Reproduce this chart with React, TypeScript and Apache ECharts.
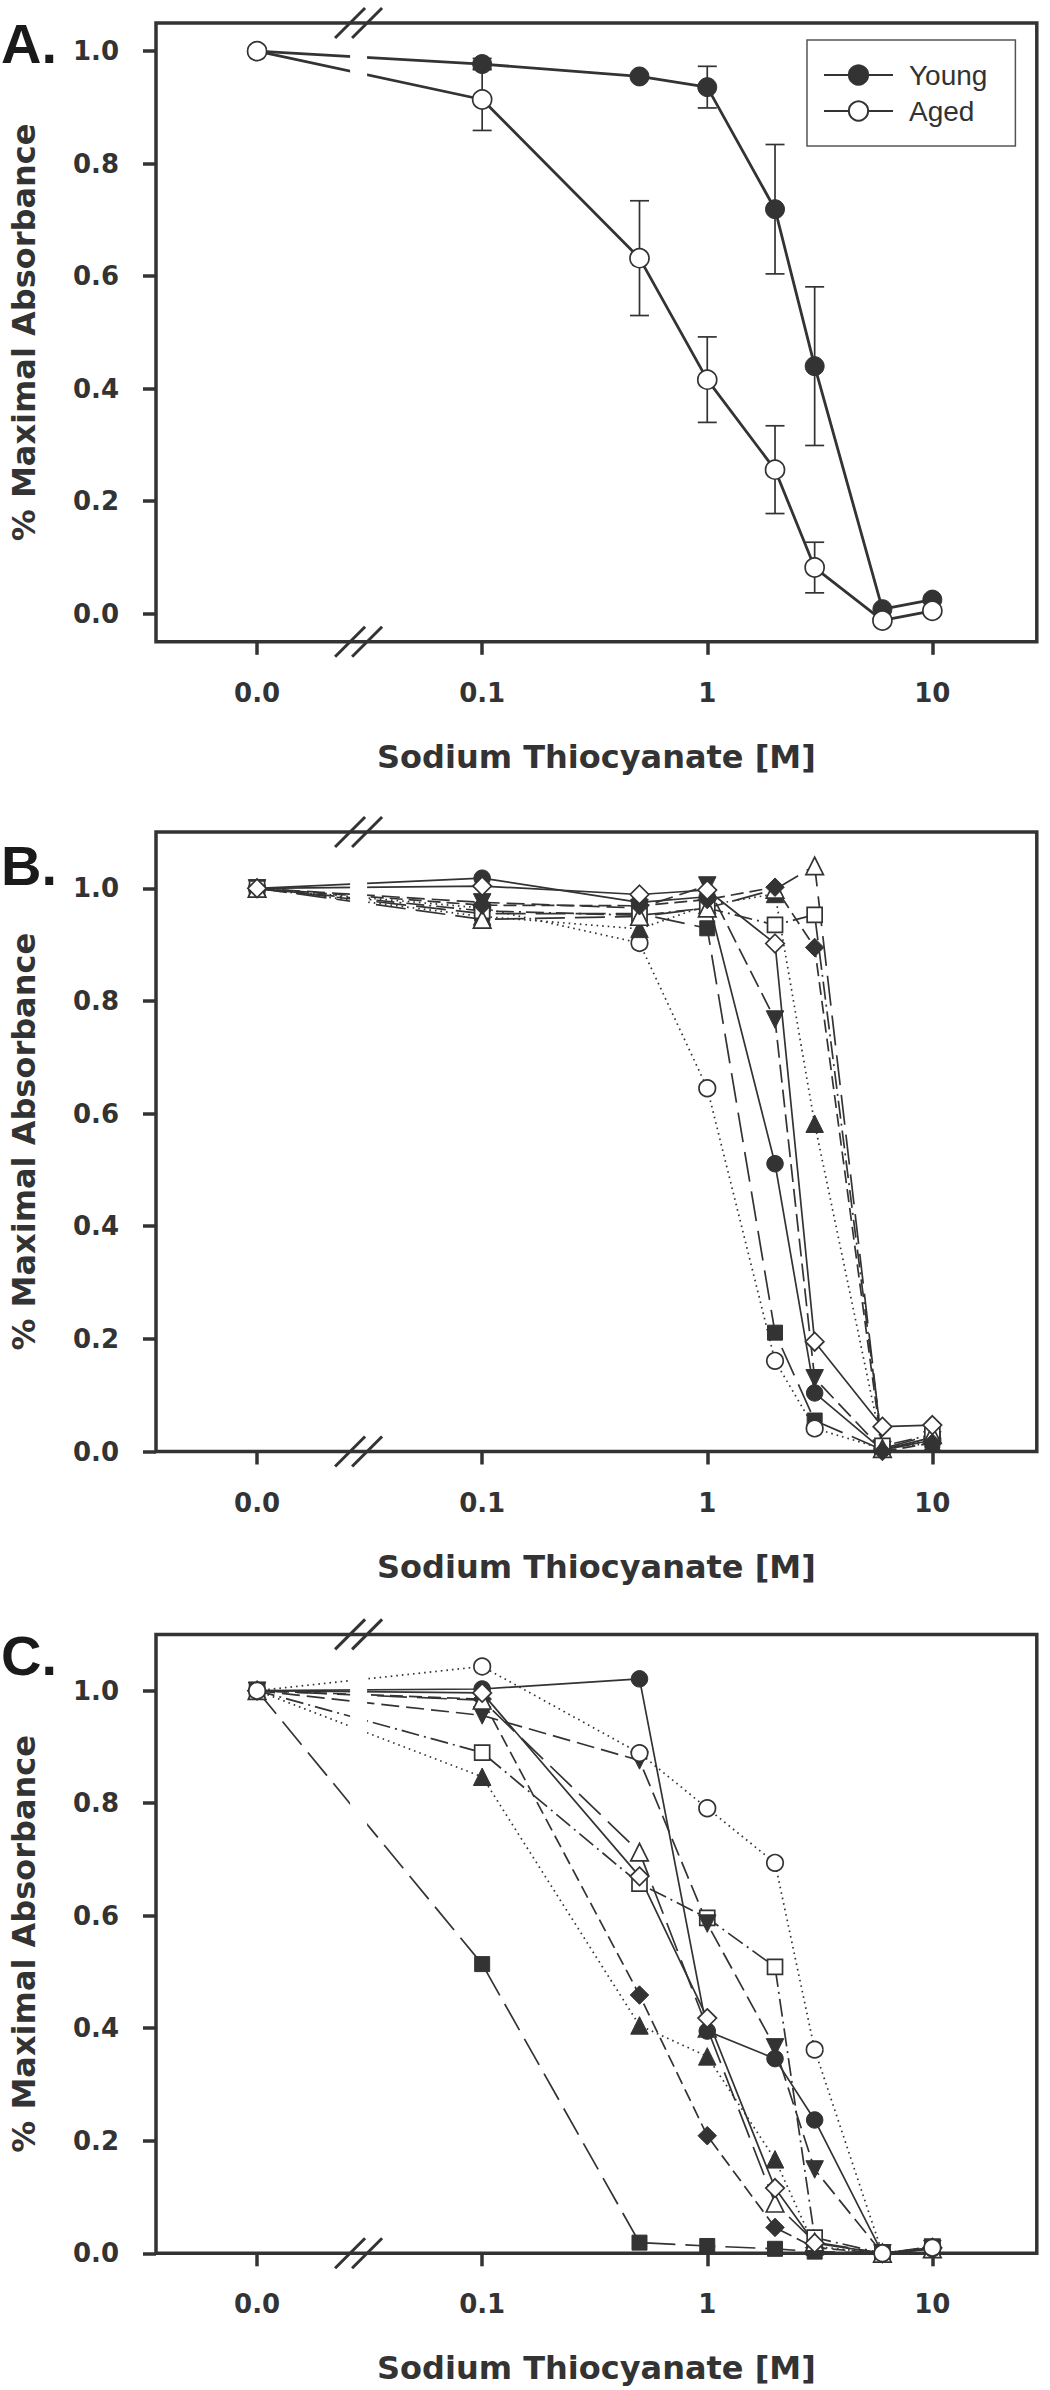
import React, { useEffect, useRef } from 'react';
import * as echarts from 'echarts';

// ---------- shared axis data ----------
const CONCENTRATIONS = [0, 0.1, 0.5, 1, 2, 3, 6, 10];
const X_TICK_CONC = [0, 0.1, 1, 10];
const X_TICK_LABELS = ['0.0', '0.1', '1', '10'];
const Y_TICKS = [0, 0.2, 0.4, 0.6, 0.8, 1.0];
const ZERO_STANDIN = 0.01; // the "0.0" column sits one decade left of 0.1
const BREAK_CONC = 0.02825; // axis break between 0.0 and 0.1
const X_LOG_MIN = -2.449;
const X_LOG_MAX = 1.464;

// ---------- panel A ----------
const A_YOUNG = [1.0, 0.977, 0.955, 0.936, 0.719, 0.44, 0.008, 0.025];
const A_YOUNG_ERR = [0, 0.01, 0, 0.037, 0.115, 0.141, 0, 0];
const A_AGED = [1.0, 0.914, 0.632, 0.416, 0.256, 0.082, -0.012, 0.005];
const A_AGED_ERR = [0, 0.055, 0.102, 0.076, 0.078, 0.045, 0, 0];

// ---------- panel B ----------
const B_FILLED_CIRCLE = [1, 1.018, 0.975, 0.985, 0.511, 0.104, 0.003, 0.025];
const B_OPEN_CIRCLE = [1, 0.965, 0.903, 0.645, 0.161, 0.041, 0.005, 0.02];
const B_FILLED_TRI_DOWN = [1, 0.975, 0.965, 1.005, 0.767, 0.13, 0.003, 0.02];
const B_OPEN_TRI_UP = [1, 0.945, 0.95, 0.965, 0.998, 1.04, 0.005, 0.03];
const B_FILLED_SQUARE = [1, 0.955, 0.955, 0.929, 0.211, 0.055, 0.003, 0.02];
const B_OPEN_SQUARE = [1, 0.96, 0.952, 0.965, 0.935, 0.953, 0.01, 0.03];
const B_FILLED_DIAMOND = [1, 0.97, 0.969, 0.98, 1.002, 0.895, 0.0, 0.015];
const B_OPEN_DIAMOND = [1, 1.004, 0.989, 0.997, 0.902, 0.195, 0.044, 0.047];
const B_FILLED_TRI_UP = [1, 0.95, 0.928, 0.97, 0.99, 0.582, 0.005, 0.015];

// ---------- panel C ----------
const C_FILLED_CIRCLE = [1, 1.003, 1.021, 0.395, 0.346, 0.237, 0.0, 0.008];
const C_OPEN_CIRCLE = [1, 1.043, 0.889, 0.791, 0.694, 0.362, 0.0, 0.01];
const C_FILLED_TRI_DOWN = [1, 0.956, 0.876, 0.586, 0.366, 0.149, 0.0, 0.008];
const C_OPEN_TRI_UP = [1, 0.983, 0.713, 0.4, 0.089, 0.02, 0.0, 0.008];
const C_FILLED_SQUARE = [1, 0.514, 0.019, 0.013, 0.008, 0.003, 0.0, 0.01];
const C_OPEN_SQUARE = [1, 0.89, 0.657, 0.596, 0.509, 0.028, 0.0, 0.012];
const C_FILLED_DIAMOND = [1, 0.985, 0.459, 0.209, 0.046, 0.01, 0.0, 0.008];
const C_OPEN_DIAMOND = [1, 0.996, 0.67, 0.418, 0.116, 0.018, 0.0, 0.01];
const C_FILLED_TRI_UP = [1, 0.847, 0.405, 0.35, 0.167, 0.012, 0.0, 0.008];

// ---------- styles ----------
const DARK = '#333333';
const DOTTED = [1.6, 4];
const DASH = [18, 7];
const MED_DASH = [13, 6];
const LONG_DASH = [30, 10];
const DASH_DOT = [18, 5, 2, 5];

type Style = { symbol: string; size: number; rotate?: number; filled: boolean; dash: any };
const STYLE: Record<string, Style> = {
  filledCircle: { symbol: 'circle', size: 16.5, filled: true, dash: 'solid' },
  openCircle: { symbol: 'circle', size: 16.5, filled: false, dash: DOTTED },
  filledTriDown: { symbol: 'triangle', size: 17.5, rotate: 180, filled: true, dash: DASH },
  openTriUp: { symbol: 'triangle', size: 17.5, filled: false, dash: LONG_DASH },
  filledSquare: { symbol: 'rect', size: 15, filled: true, dash: LONG_DASH },
  openSquare: { symbol: 'rect', size: 15, filled: false, dash: DASH_DOT },
  filledDiamond: { symbol: 'diamond', size: 18.5, filled: true, dash: MED_DASH },
  openDiamond: { symbol: 'diamond', size: 18.5, filled: false, dash: 'solid' },
  filledTriUp: { symbol: 'triangle', size: 17.5, filled: true, dash: DOTTED },
};

const xPos = (c: number) => Math.log10(c === 0 ? ZERO_STANDIN : c);

const GRIDS = [
  { left: 155.4, top: 23, width: 881.4, height: 618.8, yMin: -0.05, yMax: 1.05, letter: 'A.', letterY: 43 },
  { left: 155.4, top: 832, width: 881.4, height: 619.5, yMin: 0, yMax: 1.1, letter: 'B.', letterY: 865 },
  { left: 155.4, top: 1634.4, width: 881.4, height: 618.9, yMin: 0, yMax: 1.1, letter: 'C.', letterY: 1655 },
];

const TICK_FONT = { fontFamily: '"DejaVu Sans", sans-serif', fontWeight: 'bold' as const, fontSize: 26, color: DARK };
const TITLE_FONT = { fontFamily: '"DejaVu Sans", sans-serif', fontWeight: 'bold' as const, fontSize: 32, color: DARK };

function lineSeries(name: string, gi: number, values: number[], st: Style, lineWidth = 1.7) {
  return {
    type: 'line',
    name,
    xAxisIndex: gi,
    yAxisIndex: gi,
    data: CONCENTRATIONS.map((c, i) => [xPos(c), values[i]]),
    symbol: st.symbol,
    symbolSize: st.size,
    symbolRotate: st.rotate || 0,
    showSymbol: true,
    showAllSymbol: true,
    lineStyle: { color: DARK, width: lineWidth, type: st.dash },
    itemStyle: st.filled
      ? { color: DARK, borderColor: DARK, borderWidth: 1 }
      : { color: '#ffffff', borderColor: DARK, borderWidth: 1.7 },
    emphasis: { disabled: true },
    silent: true,
    z: 3,
  };
}

function errorSeries(gi: number, values: number[], errs: number[]) {
  const data: number[][] = [];
  CONCENTRATIONS.forEach((c, i) => {
    if (errs[i] > 0) data.push([xPos(c), values[i] - errs[i], values[i] + errs[i]]);
  });
  return {
    type: 'custom',
    xAxisIndex: gi,
    yAxisIndex: gi,
    silent: true,
    z: 2,
    encode: { x: 0, y: [1, 2] },
    data,
    renderItem: (_p: any, api: any) => {
      const x = api.value(0);
      const lo = api.coord([x, api.value(1)]);
      const hi = api.coord([x, api.value(2)]);
      const w = 9.5;
      const style = { stroke: DARK, lineWidth: 1.7 };
      return {
        type: 'group',
        children: [
          { type: 'line', shape: { x1: lo[0], y1: lo[1], x2: hi[0], y2: hi[1] }, style },
          { type: 'line', shape: { x1: lo[0] - w, y1: lo[1], x2: lo[0] + w, y2: lo[1] }, style },
          { type: 'line', shape: { x1: hi[0] - w, y1: hi[1], x2: hi[0] + w, y2: hi[1] }, style },
        ],
      };
    },
  };
}

function panelSeries(gi: number, prefix: string, arrs: [string, number[]][]) {
  return arrs.map(([key, vals]) => lineSeries(prefix + ' ' + key, gi, vals, STYLE[key]));
}

export default function App() {
  const ref = useRef<HTMLDivElement>(null);
  useEffect(() => {
    if (!ref.current) return;
    const chart = echarts.init(ref.current, null, { renderer: 'svg' });

    const xLabelFmt = (v: number) => {
      const i = X_TICK_CONC.findIndex((c) => Math.abs(xPos(c) - v) < 1e-6);
      return i >= 0 ? X_TICK_LABELS[i] : '';
    };

    const grid = GRIDS.map((g) => ({
      left: g.left,
      top: g.top,
      width: g.width,
      height: g.height,
      show: true,
      borderColor: DARK,
      borderWidth: 3.5,
      backgroundColor: 'transparent',
    }));

    const xAxis = GRIDS.map((_g, i) => ({
      type: 'value',
      gridIndex: i,
      position: 'bottom',
      min: X_LOG_MIN,
      max: X_LOG_MAX,
      name: 'Sodium Thiocyanate [M]',
      nameLocation: 'middle',
      nameGap: 99,
      nameTextStyle: TITLE_FONT,
      axisLine: { show: false, onZero: false },
      splitLine: { show: false },
      axisTick: {
        show: true,
        inside: false,
        length: 13,
        lineStyle: { color: DARK, width: 3.5 },
        customValues: X_TICK_CONC.map(xPos),
      },
      axisLabel: {
        ...TICK_FONT,
        margin: 38,
        customValues: X_TICK_CONC.map(xPos),
        formatter: xLabelFmt,
      },
    }));

    const yAxis = GRIDS.map((g, i) => ({
      type: 'value',
      gridIndex: i,
      position: 'left',
      min: g.yMin,
      max: g.yMax,
      name: '% Maximal Absorbance',
      nameLocation: 'middle',
      nameGap: 116,
      nameTextStyle: TITLE_FONT,
      axisLine: { show: false, onZero: false },
      splitLine: { show: false },
      axisTick: {
        show: true,
        inside: false,
        length: 13,
        lineStyle: { color: DARK, width: 3.5 },
        customValues: Y_TICKS,
      },
      axisLabel: {
        ...TICK_FONT,
        margin: 37,
        customValues: Y_TICKS,
        formatter: (v: number) => v.toFixed(1),
      },
    }));

    const series: any[] = [
      errorSeries(0, A_YOUNG, A_YOUNG_ERR),
      errorSeries(0, A_AGED, A_AGED_ERR),
      lineSeries('Young', 0, A_YOUNG, { symbol: 'circle', size: 19, filled: true, dash: 'solid' }, 2.8),
      lineSeries('Aged', 0, A_AGED, { symbol: 'circle', size: 19, filled: false, dash: 'solid' }, 2.8),
      ...panelSeries(1, 'B', [
        ['filledSquare', B_FILLED_SQUARE],
        ['openCircle', B_OPEN_CIRCLE],
        ['filledCircle', B_FILLED_CIRCLE],
        ['filledTriDown', B_FILLED_TRI_DOWN],
        ['filledTriUp', B_FILLED_TRI_UP],
        ['openSquare', B_OPEN_SQUARE],
        ['openTriUp', B_OPEN_TRI_UP],
        ['filledDiamond', B_FILLED_DIAMOND],
        ['openDiamond', B_OPEN_DIAMOND],
      ]),
      ...panelSeries(2, 'C', [
        ['filledSquare', C_FILLED_SQUARE],
        ['filledTriUp', C_FILLED_TRI_UP],
        ['filledDiamond', C_FILLED_DIAMOND],
        ['openSquare', C_OPEN_SQUARE],
        ['filledTriDown', C_FILLED_TRI_DOWN],
        ['openTriUp', C_OPEN_TRI_UP],
        ['filledCircle', C_FILLED_CIRCLE],
        ['openDiamond', C_OPEN_DIAMOND],
        ['openCircle', C_OPEN_CIRCLE],
      ]),
    ];

    chart.setOption({
      animation: false,
      backgroundColor: '#ffffff',
      grid,
      xAxis,
      yAxis,
      legend: {
        data: ['Young', 'Aged'],
        orient: 'vertical',
        left: 807,
        top: 40,
        padding: [21, 28, 21, 16],
        itemWidth: 69,
        itemHeight: 24,
        itemGap: 8,
        borderColor: '#555555',
        borderWidth: 1.5,
        selectedMode: false,
        textStyle: {
          fontFamily: '"Liberation Sans", Arial, sans-serif',
          fontSize: 28,
          lineHeight: 28,
          color: DARK,
          padding: [0, 0, 0, 11],
        },
      },
      series,
    });

    const graphics: any[] = [];
    GRIDS.forEach((g, i) => {
      const bx = chart.convertToPixel({ xAxisIndex: i } as any, xPos(BREAK_CONC)) as unknown as number;
      const yTop = chart.convertToPixel({ yAxisIndex: i } as any, g.yMax) as unknown as number;
      const yBot = chart.convertToPixel({ yAxisIndex: i } as any, g.yMin) as unknown as number;
      const half = 8.5;
      graphics.push({
        type: 'rect',
        z: 100,
        shape: { x: bx - half, y: yTop + 2.5, width: half * 2, height: yBot - yTop - 5 },
        style: { fill: '#ffffff' },
        silent: true,
      });
      [yTop, yBot].forEach((yy) => {
        [-half, half].forEach((dx) => {
          graphics.push({
            type: 'line',
            z: 101,
            shape: { x1: bx + dx - 15, y1: yy + 15, x2: bx + dx + 15, y2: yy - 15 },
            style: { stroke: DARK, lineWidth: 3 },
            silent: true,
          });
        });
      });
      graphics.push({
        type: 'text',
        z: 101,
        x: 1,
        y: g.letterY,
        style: {
          text: g.letter,
          font: 'bold 56px "Liberation Sans", Arial, sans-serif',
          fill: '#1a1a1a',
          textAlign: 'left',
          textVerticalAlign: 'middle',
          verticalAlign: 'middle',
        },
        silent: true,
      });
    });
    chart.setOption({ graphic: graphics });

    return () => chart.dispose();
  }, []);

  return (
    <div
      ref={ref}
      style={{ position: 'absolute', left: 0, top: 0, width: 1050, height: 2390, background: '#fff' }}
    />
  );
}
